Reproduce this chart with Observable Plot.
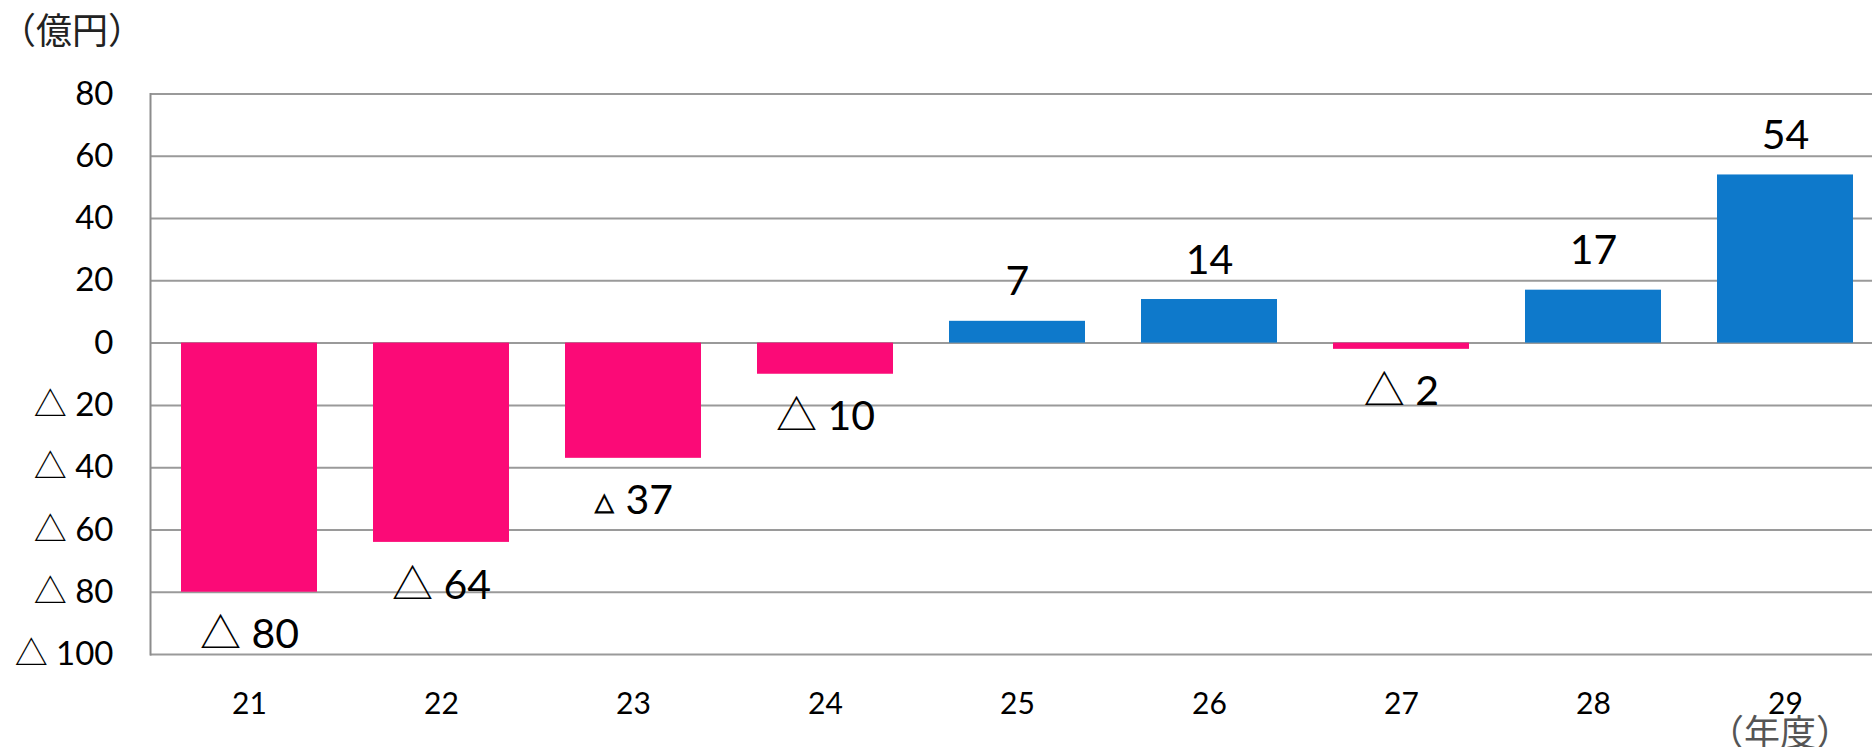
<!DOCTYPE html>
<html>
<head>
<meta charset="utf-8">
<script src="https://cdn.jsdelivr.net/npm/d3@7"></script>
<script src="https://cdn.jsdelivr.net/npm/@observablehq/plot@0.6"></script>
<style>
  html, body { margin: 0; padding: 0; background: #fff; }
  #wrap { position: relative; width: 1872px; height: 747px; overflow: hidden;
          font-family: Lato, "Noto Sans CJK JP", sans-serif; }
  #unit { position: absolute; left: 0px; top: 2px; font-size: 36px; color: #222;
          font-family: "Noto Sans CJK JP", sans-serif; }
  #xunit { position: absolute; left: 1708px; top: 704px; font-size: 36px; color: #555;
           font-family: "Noto Sans CJK JP", sans-serif; }
  svg { position: absolute; left: 0; top: 0; }
</style>
</head>
<body>
<div id="wrap">
  <div id="unit">（億円）</div>
</div>
<script>
const years = ["21", "22", "23", "24", "25", "26", "27", "28", "29"];
const values = [-80, -64, -37, -10, 7, 14, -2, 17, 54];
const labels = ["△ 80", "△ 64", "▵ 37", "△ 10", "7", "14", "△ 2", "17", "54"];
const yTicks = [-100, -80, -60, -40, -20, 0, 20, 40, 60, 80];
const pink = "#FB0A77";
const blue = "#0E79CB";

const data = years.map((y, i) => ({year: y, value: values[i], label: labels[i]}));
const fmt = d => d < 0 ? "△ " + (-d) : String(d);

const chart = Plot.plot({
  width: 1872,
  height: 747,
  marginTop: 93.5,
  marginBottom: 93,
  marginLeft: 150,
  marginRight: 0,
  style: {fontFamily: 'Lato, "Noto Sans CJK JP", sans-serif', background: "transparent", color: "#000"},
  x: {domain: years, range: [150, 1883.4], paddingInner: 0.29, paddingOuter: 0.145, label: null},
  y: {domain: [-100, 80], label: null},
  color: {type: "identity"},
  marks: [
    Plot.ruleY(yTicks, {stroke: "#9a9a9a", strokeWidth: 2}),
    Plot.frame({anchor: "left", stroke: "#8c8c8c", strokeWidth: 2}),
    Plot.barY(data, {x: "year", y: "value", fill: d => d.value < 0 ? pink : blue}),
    Plot.text(data.filter(d => d.value >= 0), {x: "year", y: "value", text: "label", dy: -39, fontSize: 41, fill: "#000"}),
    Plot.text(data.filter(d => d.value < 0), {x: "year", y: "value", text: "label", dy: 43, fontSize: 41, fill: "#000"}),
    Plot.axisY(yTicks, {tickFormat: fmt, tickSize: 0, tickPadding: 37, fontSize: 33, label: null}),
    Plot.axisX({tickSize: 0, tickPadding: 38, fontSize: 30, label: null})
  ]
});
document.getElementById("wrap").appendChild(chart);
const xu = document.createElement("div");
xu.id = "xunit";
xu.textContent = "（年度）";
document.getElementById("wrap").appendChild(xu);
</script>
</body>
</html>
